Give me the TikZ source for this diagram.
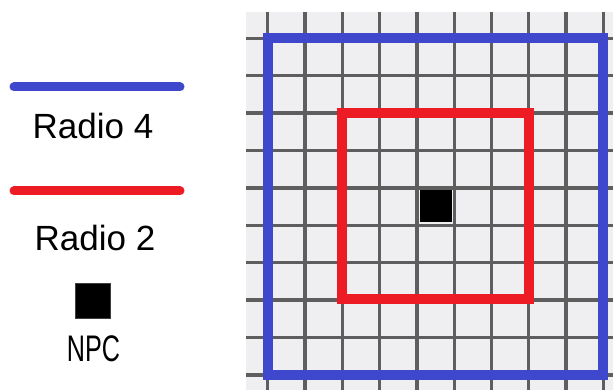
\documentclass[tikz,border=0pt]{standalone}
\usepackage{fontspec}
\setmainfont{Liberation Sans}
\definecolor{bgray}{HTML}{EFEFF1}
\definecolor{gline}{HTML}{5E5E5E}
\definecolor{rblue}{HTML}{3F48CC}
\definecolor{rred}{HTML}{ED1C24}
\begin{document}
\begin{tikzpicture}[x=1pt,y=-1pt,
  gridline/.style={draw=gline,line width=3.3pt},
  radius4/.style={draw=rblue,line width=10pt},
  radius2/.style={draw=rred,line width=10pt},
  legline/.style={line width=9pt,line cap=round},
  legtext/.style={font=\fontsize{35}{40}\selectfont,inner sep=0pt,anchor=center},
  npcbox/.style={fill=black,draw=black!75,line width=1pt,minimum size=35pt,inner sep=0pt}]
\useasboundingbox (0,0) rectangle (613,390);
% grid background
\fill[bgray] (246,12) rectangle (613,390);
\foreach \i in {0,...,9}{
  \draw[gridline] ({267.7+37.3*\i},12) -- ({267.7+37.3*\i},390);
  \draw[gridline] (246,{38.3+37.4*\i}) -- (613,{38.3+37.4*\i});
}
% range squares
\draw[radius4] (267.7,38.3) rectangle (603.4,374.9);
\draw[radius2] (342.3,113.1) rectangle (528.8,299.3);
% NPC in center cell
\fill[black] (419.5,190.0) rectangle (452.2,222.5);
% legend
\coordinate (b1) at (14,87);
\coordinate (b2) at (180,87);
\draw[legline,rblue] (b1) -- (b2);
\node[legtext] (r4) at (93,126) {Radio 4};
\coordinate (r1) at (14,191);
\coordinate (r2) at (180,191);
\draw[legline,rred] (r1) -- (r2);
\node[legtext] (r2t) at (95,238) {Radio 2};
\node[npcbox] (npcl) at (93,300.5) {};
\node[inner sep=0pt,font=\fontsize{37}{40}\selectfont,xscale=0.68] (npct) at (93.5,348.5) {NPC};
\end{tikzpicture}
\end{document}
